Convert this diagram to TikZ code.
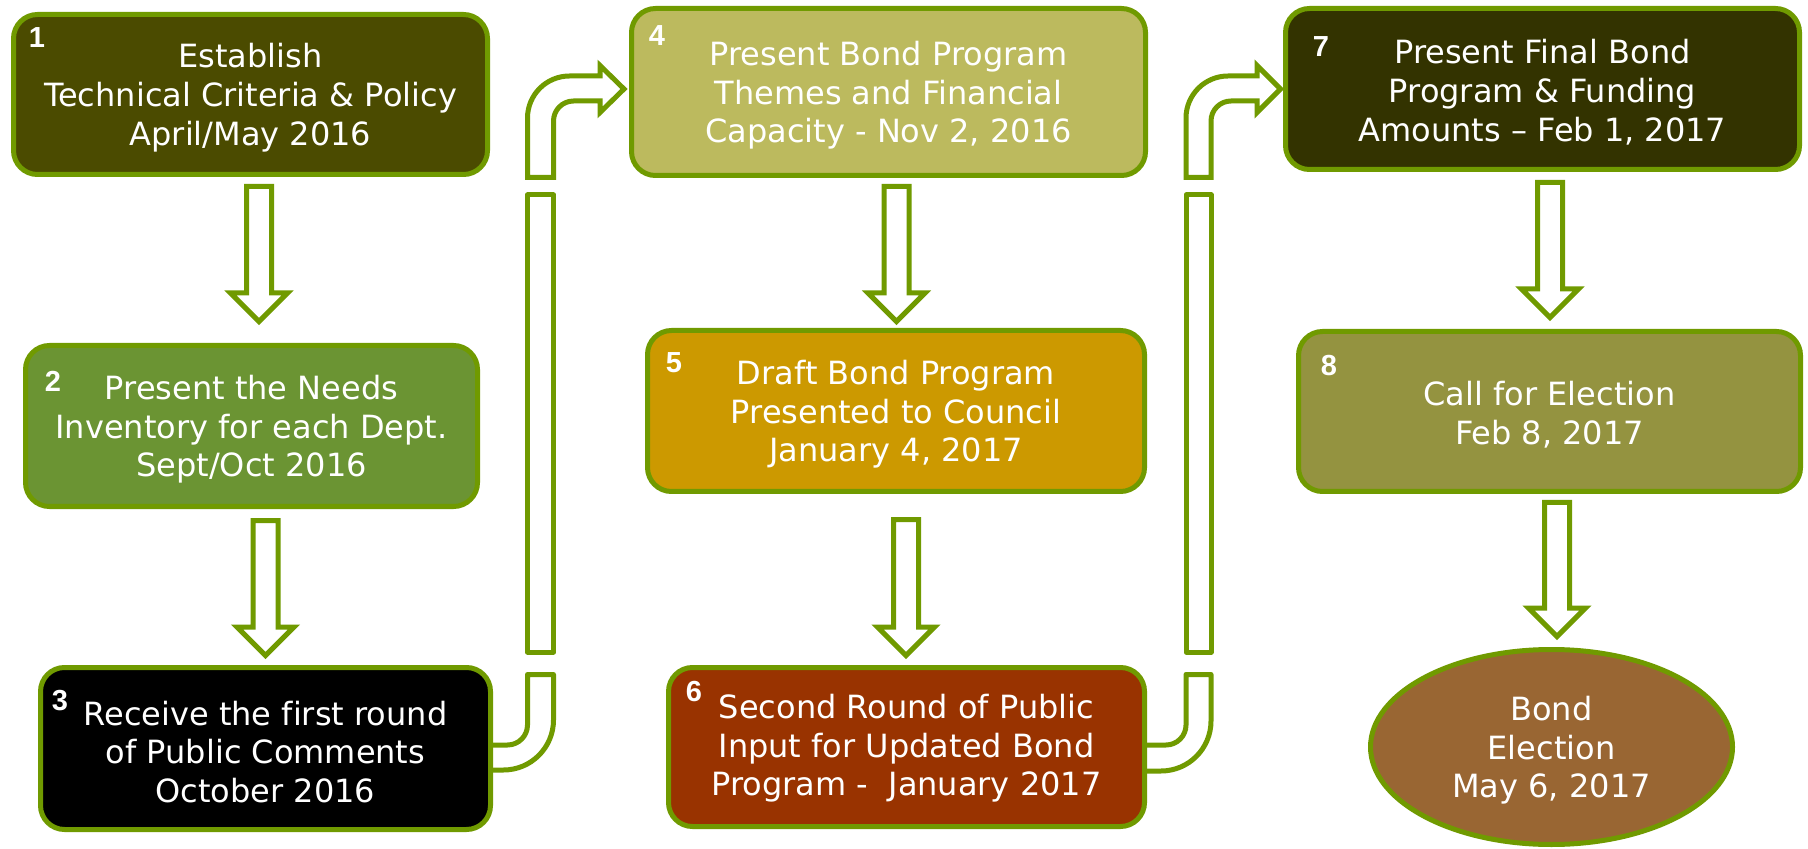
\documentclass[tikz,border=0pt]{standalone}
\usepackage{fontspec}
\setmainfont{DejaVu Sans}[Ligatures=NoCommon]
\newfontfamily\numfont{Liberation Sans}
\usetikzlibrary{shapes.geometric}
\definecolor{edgegreen}{RGB}{112,154,0}
\definecolor{cone}{RGB}{75,75,0}
\definecolor{ctwo}{RGB}{107,148,51}
\definecolor{cthree}{RGB}{0,0,0}
\definecolor{cfour}{RGB}{188,186,94}
\definecolor{cfive}{RGB}{204,153,0}
\definecolor{csix}{RGB}{153,51,0}
\definecolor{cseven}{RGB}{51,51,0}
\definecolor{ceight}{RGB}{148,147,64}
\definecolor{cnine}{RGB}{153,102,51}
% down block arrow: #1 centre x, #2 top, #3 head base, #4 tip
\newcommand\blockdown[4]{%
  \draw[blockarrow] ({#1-12.5},#2) -- ({#1+12.5},#2) -- ({#1+12.5},#3) -- ({#1+28.5},#3)
    -- (#1,#4) -- ({#1-28.5},#3) -- ({#1-12.5},#3) -- cycle;}
\begin{document}
\begin{tikzpicture}[x=0.5pt,y=-0.5pt,
  stepbox/.style={draw=edgegreen, line width=2.5pt, rounded corners=12pt, inner sep=0pt},
  steptext/.style={align=center, text=white, inner sep=0pt, yshift=-1.6pt,
    font=\fontsize{16}{19.3}\selectfont},
  numlabel/.style={text=white, font=\numfont\bfseries\fontsize{14.5}{14.5}\selectfont, inner sep=0pt},
  blockarrow/.style={draw=edgegreen, fill=white, line width=2.5pt, line join=miter}]
\useasboundingbox (0,0) rectangle (1808,849);
\fill[white] (0,0) rectangle (1808,849);

% ---- connector 3 -> 4 ----
\draw[blockarrow, line join=round] (480,745) -- (507.5,745) .. controls (518.5,745) and (527.5,736) .. (527.5,725)
  -- (527.5,674.5) -- (553.5,674.5) -- (553.5,720) .. controls (553.5,747.6) and (531.1,770) .. (503.5,770) -- (480,770);
\draw[blockarrow, line join=round] (527.5,195) rectangle (553.5,652);
\draw[blockarrow] (527.5,177.5) -- (527.5,118) .. controls (527.5,94.8) and (546.3,76) .. (569.5,76)
  -- (600,76) -- (600,65.5) -- (624,89) -- (600,112.5) -- (600,101) -- (573.5,101)
  .. controls (562.5,101) and (553.5,110) .. (553.5,121) -- (553.5,177.5) -- cycle;

% ---- connector 6 -> 7 ----
\draw[blockarrow, line join=round] (1140,745) -- (1166,745) .. controls (1177,745) and (1186,736) .. (1186,725)
  -- (1186,674.5) -- (1211,674.5) -- (1211,721) .. controls (1211,748.6) and (1188.6,771) .. (1161,771) -- (1140,771);
\draw[blockarrow, line join=round] (1186,195) rectangle (1211,652);
\draw[blockarrow] (1186,177.5) -- (1186,118) .. controls (1186,94.8) and (1204.8,76) .. (1228,76)
  -- (1257,76) -- (1257,65.5) -- (1280.5,89) -- (1257,112.5) -- (1257,101) -- (1231,101)
  .. controls (1220,101) and (1211,110) .. (1211,121) -- (1211,177.5) -- cycle;

% ---- boxes ----
\node[stepbox, fill=cone, minimum width=237pt, minimum height=80pt] (b1) at (250.5,94.5) {};
\node[steptext] (t1) at (b1.center) {Establish\\Technical Criteria \& Policy\\April/May 2016};
\node[stepbox, fill=ctwo, minimum width=226pt, minimum height=80.5pt] (b2) at (251.5,426) {};
\node[steptext] (t2) at (b2.center) {Present the Needs\\Inventory for each Dept.\\Sept/Oct 2016};
\node[stepbox, fill=cthree, minimum width=225pt, minimum height=81pt] (b3) at (265.5,748.5) {};
\node[steptext] (t3) at (b3.center) {Receive the first round\\of Public Comments\\October 2016};
\node[stepbox, fill=cfour, minimum width=257pt, minimum height=83.5pt] (b4) at (888.5,92) {};
\node[steptext] (t4) at (b4.center) {Present Bond Program\\Themes and Financial\\Capacity - Nov 2, 2016};
\node[stepbox, fill=cfive, minimum width=248.5pt, minimum height=80.5pt] (b5) at (896,411) {};
\node[steptext] (t5) at (b5.center) {Draft Bond Program\\Presented to Council\\January 4, 2017};
\node[stepbox, fill=csix, minimum width=238pt, minimum height=79.5pt] (b6) at (906.5,747) {};
\node[steptext, yshift=1pt] (t6) at (b6.center) {Second Round of Public\\Input for Updated Bond\\Program -\ \ January 2017};
\node[stepbox, fill=cseven, minimum width=257pt, minimum height=80.5pt] (b7) at (1542.5,89) {};
\node[steptext] (t7) at (b7.center) {Present Final Bond\\Program \& Funding\\Amounts – Feb 1, 2017};
\node[stepbox, fill=ceight, minimum width=251pt, minimum height=80pt] (b8) at (1549.5,411.5) {};
\node[steptext] (t8) at (b8.center) {Call for Election\\Feb 8, 2017};
\node[stepbox, ellipse, rounded corners=0pt, fill=cnine, minimum width=181pt, minimum height=97.5pt] (b9) at (1551.5,747) {};
\node[steptext] (t9) at (b9.center) {Bond\\Election\\May 6, 2017};

% ---- step numbers ----
\node[numlabel] (n1) at (37,38) {1};
\node[numlabel] (n2) at (53,381) {2};
\node[numlabel] (n3) at (60,701) {3};
\node[numlabel] (n4) at (657,36) {4};
\node[numlabel] (n5) at (674,363) {5};
\node[numlabel] (n6) at (694,692) {6};
\node[numlabel] (n7) at (1321,47) {7};
\node[numlabel] (n8) at (1329,366) {8};

% ---- straight block arrows ----
\blockdown{259}{186.5}{293}{321.5}
\blockdown{265.5}{520.5}{627}{655.5}
\blockdown{896.5}{186.5}{293}{321.5}
\blockdown{906}{519.5}{627}{655.5}
\blockdown{1550}{182.5}{289}{317.5}
\blockdown{1557}{502.5}{608}{636.5}
\end{tikzpicture}
\end{document}
